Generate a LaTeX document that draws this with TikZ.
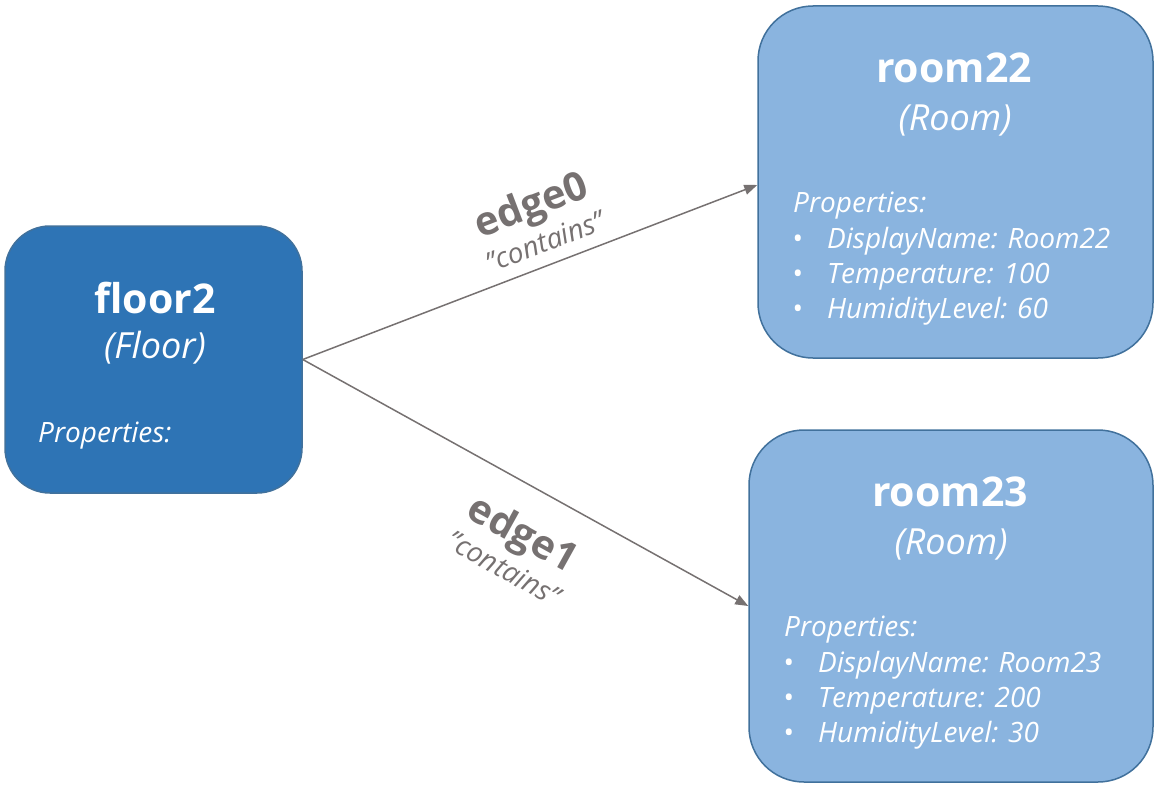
\documentclass[tikz,border=0pt]{standalone}
\usepackage{fontspec}
\setmainfont{Open Sans}
\usetikzlibrary{arrows.meta}
\definecolor{floorfill}{HTML}{2E74B5}
\definecolor{roomfill}{HTML}{8AB4DF}
\definecolor{boxline}{HTML}{41719C}
\definecolor{edgegray}{HTML}{767171}
\tikzset{
  floorbox/.style={draw=boxline, line width=1.5pt, fill=floorfill, rounded corners=45pt, minimum width=297pt, minimum height=267pt, inner sep=0pt},
  roombox/.style={draw=boxline, line width=1.5pt, fill=roomfill, rounded corners=55pt, minimum height=352pt, inner sep=0pt},
  titletext/.style={text=white, font=\fontsize{41}{48}\selectfont\bfseries, anchor=base, inner sep=0pt},
  typetext/.style={text=white, font=\fontsize{36}{40}\selectfont\itshape, anchor=base, inner sep=0pt},
  proptext/.style={text=white, font=\fontsize{28}{30}\selectfont\itshape, anchor=base west, inner sep=0pt},
  bullettext/.style={text=white, font=\fontsize{28}{30}\selectfont, anchor=base, inner sep=0pt},
  conn/.style={draw=edgegray, line width=1.5pt, -{Triangle[length=13pt,width=10pt]}},
  edgelabel/.style={text=edgegray, align=center, inner sep=0pt},
}
\newcommand{\ename}[1]{{\fontsize{40}{36}\selectfont\bfseries #1}}
\newcommand{\erel}[1]{{\fontsize{28}{30}\selectfont\itshape #1}}
\begin{document}
\begin{tikzpicture}[x=1pt, y=-1pt]
\useasboundingbox (0,0) rectangle (1160,792);
% boxes
\node[floorbox] (f) at (153.5,359.5) {};
\node[roombox, minimum width=395pt] (r22) at (955.5,182) {};
\node[roombox, minimum width=404pt] (r23) at (951,606) {};
% floor2 texts
\node[titletext] (ft) at (155,313) {floor2};
\node[typetext] (fty) at (155,358) {(Floor)};
\node[proptext] (fp) at (38,442) {Properties:};
% room22 texts
\node[titletext] (r22t) at (954,82) {room22};
\node[typetext] (r22ty) at (955,130) {(Room)};
\node[proptext] (r22p) at (793,212) {Properties:};
\node[bullettext] (r22b1) at (798,248) {•};
\node[proptext] (r22l1) at (827,248) {DisplayName: Room22};
\node[bullettext] (r22b2) at (798,283) {•};
\node[proptext] (r22l2) at (827,283) {Temperature: 100};
\node[bullettext] (r22b3) at (798,318) {•};
\node[proptext] (r22l3) at (827,318) {HumidityLevel: 60};
% room23 texts
\node[titletext] (r23t) at (950,506) {room23};
\node[typetext] (r23ty) at (951,554) {(Room)};
\node[proptext] (r23p) at (784,636) {Properties:};
\node[bullettext] (r23b1) at (789,672) {•};
\node[proptext] (r23l1) at (818,672) {DisplayName: Room23};
\node[bullettext] (r23b2) at (789,707) {•};
\node[proptext] (r23l2) at (818,707) {Temperature: 200};
\node[bullettext] (r23b3) at (789,742) {•};
\node[proptext] (r23l3) at (818,742) {HumidityLevel: 30};
% connectors
\draw[conn] (f.east) -- ([yshift=-3pt]r22.west);
\draw[conn] (f.east) -- (r23.west);
% edge labels
\node[edgelabel, rotate=20.8] (e0) at (537,220) {\ename{edge0}\\[5pt]\erel{"contains"}};
\node[edgelabel, rotate=-29] (e1) at (515,548) {\ename{edge1}\\[5pt]\erel{"contains"}};
\end{tikzpicture}
\end{document}
